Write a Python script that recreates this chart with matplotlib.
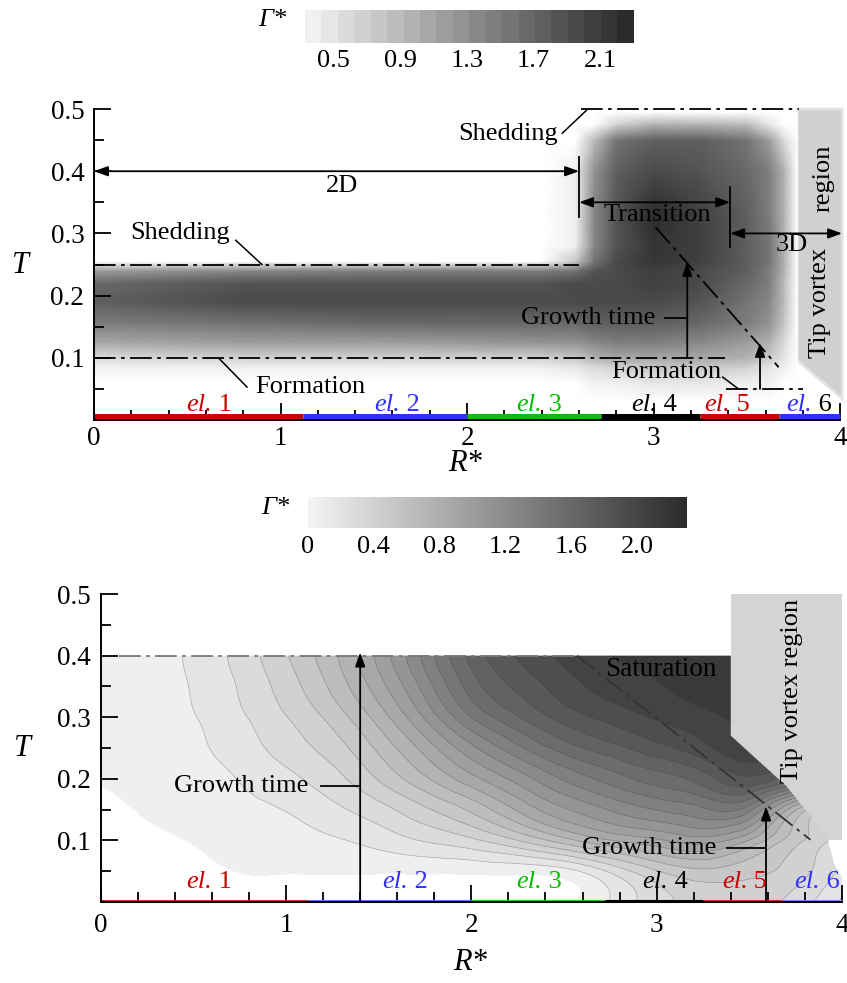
import numpy as np
import matplotlib.pyplot as plt
import matplotlib.tri as mtri
from matplotlib.colors import LinearSegmentedColormap, Normalize
from matplotlib.cm import ScalarMappable
from matplotlib.patches import Polygon
from matplotlib.ticker import MultipleLocator, FixedLocator

plt.rcParams['font.family'] = ['Liberation Serif', 'DejaVu Serif']
plt.rcParams['font.size'] = 19

# blade elements along R*
el_edges = [0.0, 1.12, 2.0, 2.72, 3.25, 3.67, 4.0]
el_nums = ['1', '2', '3', '4', '5', '6']
el_colors = ['#cc0000', '#3030ff', '#00c000', 'black', '#cc0000', '#3030ff']
el_num_colors_top = ['#cc0000', '#3030ff', '#00c000', 'black', '#cc0000', 'black']
el_bar_colors_bot = ['#cc3030', '#7070ff', '#30c030', 'black', '#cc3030', '#8080ff']
el_r_top = [0.60, 1.61, 2.37, 2.99, 3.38, 3.82]
el_r_bot = [0.57, 1.63, 2.35, 3.03, 3.46, 3.85]

# upper panel: circulation Gamma* on (R*, T) nodes
r_top = [0.0, 0.8, 1.6, 2.4, 2.58, 2.68, 2.8, 3.0, 3.25, 3.5, 3.62, 3.7, 3.77]
t_top = [0.03, 0.06, 0.085, 0.1, 0.125, 0.155, 0.19, 0.22, 0.24, 0.255,
         0.28, 0.33, 0.4, 0.45, 0.475, 0.495]
gamma_top = [
    [0, 0, 0, 0, 0, 0, 0, 0, 0, 0, 0, 0, 0],
    [0, 0, 0, 0, 0, 0.34, 0.4, 0.46, 0.5, 0.42, 0.36, 0, 0],
    [0.36, 0.36, 0.38, 0.4, 0.45, 0.6, 0.72, 0.8, 0.82, 0.68, 0.52, 0.36, 0],
    [0.62, 0.66, 0.7, 0.72, 0.8, 0.95, 1.05, 1.1, 1.1, 0.95, 0.75, 0.45, 0],
    [1.05, 1.15, 1.2, 1.25, 1.3, 1.38, 1.45, 1.45, 1.4, 1.2, 1.0, 0.6, 0],
    [1.45, 1.6, 1.65, 1.65, 1.7, 1.72, 1.75, 1.78, 1.68, 1.45, 1.25, 0.8, 0],
    [1.8, 1.95, 2.0, 1.95, 1.95, 1.95, 1.95, 1.95, 1.85, 1.6, 1.38, 0.9, 0],
    [1.68, 1.85, 1.9, 1.88, 1.92, 1.98, 2.0, 2.05, 1.95, 1.7, 1.45, 0.92, 0],
    [1.15, 1.35, 1.42, 1.42, 1.58, 1.85, 2.0, 2.1, 2.0, 1.75, 1.5, 0.95, 0],
    [0, 0, 0, 0.2, 0.75, 1.6, 1.95, 2.15, 2.02, 1.8, 1.55, 1.0, 0],
    [0, 0, 0, 0, 0.4, 1.4, 1.9, 2.2, 2.05, 1.8, 1.55, 1.0, 0],
    [0, 0, 0, 0, 0.34, 1.35, 1.88, 2.22, 2.05, 1.78, 1.5, 1.0, 0],
    [0, 0, 0, 0, 0.34, 1.3, 1.8, 2.0, 1.9, 1.7, 1.45, 0.95, 0],
    [0, 0, 0, 0, 0.1, 0.9, 1.6, 1.8, 1.75, 1.6, 1.2, 0.55, 0],
    [0, 0, 0, 0, 0, 0.2, 0.7, 1.0, 1.0, 0.85, 0.45, 0, 0],
    [0, 0, 0, 0, 0, 0, 0, 0, 0, 0, 0, 0, 0],
]
tip_top = [(3.77, 0.096), (4.01, 0.035), (4.01, 0.5), (3.77, 0.5)]

# lower panel: circulation Gamma* on (R*, T) nodes
r_bot = [0, 0.25, 0.5, 0.75, 1.0, 1.25, 1.5, 1.75, 2.0, 2.25, 2.5, 2.75,
         3.0, 3.25, 3.5, 3.75, 4.0]
t_bot = [0, 0.05, 0.1, 0.15, 0.2, 0.25, 0.3, 0.35, 0.4]
gamma_bot = [
    [-0.03, -0.03, -0.03, -0.03, -0.03, -0.03, -0.03, -0.03, -0.03, -0.03, -0.02, 0.12, 0.3, 0.38, 0.4, 0.3, 0.1],
    [-0.03, -0.03, -0.02, 0.002, 0.005, 0.008, 0.01, 0.015, 0.02, 0.03, 0.07, 0.25, 0.45, 0.55, 0.5, 0.4, 0.2],
    [-0.03, -0.012, 0.003, 0.03, 0.06, 0.1, 0.16, 0.24, 0.32, 0.46, 0.64, 0.8, 0.9, 0.98, 0.8, 0.5, 0.3],
    [-0.015, 0.006, 0.035, 0.075, 0.12, 0.2, 0.3, 0.44, 0.6, 0.82, 1.02, 1.16, 1.27, 1.36, 1.3, 0.7, 0.5],
    [0.003, 0.018, 0.065, 0.12, 0.2, 0.3, 0.47, 0.67, 0.88, 1.08, 1.28, 1.43, 1.55, 1.67, 1.82, 1.6, 1.3],
    [0.02, 0.03, 0.09, 0.17, 0.28, 0.4, 0.6, 0.85, 1.12, 1.35, 1.55, 1.68, 1.8, 1.92, 2.05, 1.95, 1.8],
    [0.025, 0.04, 0.108, 0.21, 0.34, 0.5, 0.74, 1.05, 1.38, 1.6, 1.77, 1.88, 1.97, 2.04, 2.1, 2.1, 2.0],
    [0.03, 0.045, 0.125, 0.24, 0.4, 0.6, 0.87, 1.2, 1.55, 1.75, 1.9, 2.0, 2.06, 2.11, 2.13, 2.1, 2.0],
    [0.03, 0.05, 0.14, 0.27, 0.45, 0.66, 0.95, 1.3, 1.65, 1.85, 1.98, 2.07, 2.12, 2.14, 2.14, 2.1, 2.0],
]
field_bot_outline = [(0, 0), (0, 0.4), (3.4, 0.4), (3.4, 0.27), (3.7, 0.188),
                     (3.92, 0.106), (3.96, 0.06), (4.0, 0.04), (4.0, 0)]
tip_bot = [(3.4, 0.1), (4.0, 0.1), (4.0, 0.5), (3.4, 0.5)]

DASHDOT = (0, (12, 3, 2, 3))
FS = 19

fig = plt.figure(figsize=(8.47, 9.83), dpi=100)

cmap_top = LinearSegmentedColormap.from_list('top', ['#f0f0f0', '#2b2b2b'], N=20)
cmap_top.set_under('white')
norm_top = Normalize(0.33, 2.30)
cmap_bot = LinearSegmentedColormap.from_list('bot', ['#f4f4f4', '#2b2b2b'], N=256)
norm_bot = Normalize(0.0, 2.3)


def setup_axes(ax, xpad):
    ax.set_xlim(0, 4)
    ax.set_ylim(0, 0.5)
    for s in ['top', 'right']:
        ax.spines[s].set_visible(False)
    for s in ['left', 'bottom']:
        ax.spines[s].set_linewidth(1.4)
        ax.spines[s].set_zorder(6)
    ax.xaxis.set_major_locator(FixedLocator([0, 1, 2, 3, 4]))
    ax.xaxis.set_minor_locator(MultipleLocator(0.2))
    ax.yaxis.set_major_locator(FixedLocator([0.1, 0.2, 0.3, 0.4, 0.5]))
    ax.yaxis.set_minor_locator(MultipleLocator(0.05))
    ax.set_yticklabels(['0.1', '0.2', '0.3', '0.4', '0.5'])
    ax.set_xticklabels(['0', '1', '2', '3', '4'])
    ax.tick_params(which='both', direction='in', width=1.3, labelsize=19.5,
                   top=False, right=False)
    ax.tick_params(which='major', length=12)
    ax.tick_params(which='minor', length=7.5)
    ax.tick_params(axis='x', pad=xpad)
    ax.tick_params(axis='y', pad=7)


def arrow(ax, x0, y0, x1, y1, style='-|>'):
    ax.annotate('', xy=(x1, y1), xytext=(x0, y0), annotation_clip=False,
                arrowprops=dict(arrowstyle=style + ',head_length=0.55,head_width=0.2',
                                color='black', lw=1.3, shrinkA=0, shrinkB=0,
                                mutation_scale=15), zorder=5)


def line(ax, xs, ys, **kw):
    kw.setdefault('color', 'black')
    kw.setdefault('lw', 1.3)
    ax.plot(xs, ys, clip_on=False, zorder=5, **kw)


def el_labels(ax, rs, t, num_colors, bar_colors, bar_t, bar_lw):
    for i in range(6):
        ax.plot([el_edges[i], el_edges[i + 1]], [bar_t, bar_t], color=bar_colors[i],
                lw=bar_lw, solid_capstyle='butt', clip_on=False, zorder=4)
        ax.text(rs[i] + 0.03, t, 'el.', color=el_colors[i], style='italic',
                ha='right', va='center', fontsize=FS, zorder=5)
        ax.text(rs[i] + 0.03, t, ' ' + el_nums[i], color=num_colors[i],
                ha='left', va='center', fontsize=FS, zorder=5)


# ---------------- upper panel ----------------
ax1 = fig.add_axes([0.111, 0.5727, 0.881, 0.3164])
setup_axes(ax1, 4)
ax1.pcolormesh(r_top, t_top, np.array(gamma_top), shading='gouraud',
               cmap=cmap_top, norm=norm_top, zorder=1)
ax1.add_patch(Polygon(tip_top, closed=True, facecolor='#d0d0d0',
                      edgecolor='#e2e2e2', lw=2, zorder=0.5, clip_on=False))

line(ax1, [0, 2.6], [0.25, 0.25], ls=DASHDOT)
line(ax1, [0, 3.38], [0.1, 0.1], ls=DASHDOT)
line(ax1, [2.61, 3.78], [0.5, 0.5], ls=DASHDOT)
line(ax1, [3.39, 3.80], [0.05, 0.05], ls=DASHDOT)
line(ax1, [3.01, 3.67], [0.31, 0.085], ls=DASHDOT)

arrow(ax1, 0.0, 0.4, 2.6, 0.4, '<|-|>')
arrow(ax1, 2.6, 0.35, 3.41, 0.35, '<|-|>')
arrow(ax1, 3.41, 0.30, 4.01, 0.30, '<|-|>')
line(ax1, [2.6, 2.6], [0.326, 0.423])
line(ax1, [3.41, 3.41], [0.278, 0.375])
arrow(ax1, 3.18, 0.1, 3.18, 0.254)
arrow(ax1, 3.57, 0.05, 3.57, 0.124)

line(ax1, [2.51, 2.64], [0.461, 0.498], lw=1.1)
line(ax1, [0.76, 0.90], [0.289, 0.25], lw=1.1)
line(ax1, [0.82, 0.67], [0.053, 0.099], lw=1.1)
line(ax1, [3.37, 3.45], [0.069, 0.051], lw=1.1)
line(ax1, [3.06, 3.18], [0.164, 0.164], lw=1.3)

ax1.text(1.33, 0.376, '2D', ha='center', va='center', fontsize=FS, zorder=5)
ax1.text(3.02, 0.33, 'Transition', ha='center', va='center', fontsize=FS, zorder=5)
ax1.text(3.74, 0.281, '3D', ha='center', va='center', fontsize=FS, zorder=5)
ax1.text(2.22, 0.46, 'Shedding', ha='center', va='center', fontsize=FS, zorder=5)
ax1.text(0.46, 0.30, 'Shedding', ha='center', va='center', fontsize=FS, zorder=5)
ax1.text(1.16, 0.053, 'Formation', ha='center', va='center', fontsize=FS, zorder=5)
ax1.text(3.07, 0.077, 'Formation', ha='center', va='center', fontsize=FS, zorder=5)
ax1.text(2.65, 0.164, 'Growth time', ha='center', va='center', fontsize=FS, zorder=5)
ax1.text(3.89, 0.188, 'Tip vortex', ha='center', va='center', rotation=90,
         fontsize=FS, zorder=5)
ax1.text(3.91, 0.389, 'region', ha='center', va='center', rotation=90,
         fontsize=FS, zorder=5)

el_labels(ax1, el_r_top, 0.024, el_num_colors_top, el_colors, 0.0065, 3.6)

ax1.text(-0.099, 0.498, 'T', transform=ax1.transAxes, style='italic',
         ha='center', va='center', fontsize=22)
ax1.text(0.497, -0.14, 'R*', transform=ax1.transAxes, style='italic',
         ha='center', va='center', fontsize=22)

cax1 = fig.add_axes([0.360, 0.956, 0.388, 0.0336])
cb1 = fig.colorbar(ScalarMappable(norm=norm_top, cmap=cmap_top), cax=cax1,
                   orientation='horizontal', ticks=[0.5, 0.9, 1.3, 1.7, 2.1])
cb1.outline.set_visible(False)
cb1.ax.tick_params(length=0, labelsize=19, pad=5)
fig.text(0.321, 0.980, 'Γ*', style='italic', ha='center', va='center', fontsize=19)

# ---------------- lower panel ----------------
ax2 = fig.add_axes([0.1189, 0.0824, 0.8752, 0.3133])
setup_axes(ax2, 8)
ax2.add_patch(Polygon(tip_bot, closed=True, facecolor='#d4d4d4',
                      edgecolor='none', zorder=0.5))

# smooth the node table with matplotlib's cubic refiner before contouring
rr, tt = np.meshgrid(r_bot, t_bot)
tri = mtri.Triangulation(rr.ravel(), tt.ravel())
refiner = mtri.UniformTriRefiner(tri)
tri_f, gamma_f = refiner.refine_field(np.array(gamma_bot).ravel(), subdiv=3)

levels = np.linspace(0, 2.3, 21)
cf = ax2.tricontourf(tri_f, gamma_f, levels=levels, cmap=cmap_bot,
                     norm=norm_bot, zorder=1)
cl = ax2.tricontour(tri_f, gamma_f, levels=levels[1:], colors='#444444',
                    linewidths=0.5, alpha=0.35, zorder=1.5)
clip = Polygon(field_bot_outline, closed=True, transform=ax2.transData)
cf.set_clip_path(clip)
cl.set_clip_path(clip)

line(ax2, [0.1, 2.57], [0.4, 0.4], ls=DASHDOT, color='#777777')
line(ax2, [2.57, 3.83], [0.4, 0.101], ls=DASHDOT, color='#333333')
arrow(ax2, 1.40, 0.0, 1.40, 0.405)
arrow(ax2, 3.59, 0.0, 3.59, 0.155)
line(ax2, [1.19, 1.40], [0.189, 0.189])
line(ax2, [3.38, 3.59], [0.088, 0.088])

ax2.text(3.02, 0.378, 'Saturation', ha='center', va='center', fontsize=19.5, zorder=5)
ax2.text(0.76, 0.189, 'Growth time', ha='center', va='center', fontsize=FS, zorder=5)
ax2.text(2.96, 0.088, 'Growth time', ha='center', va='center', fontsize=FS, zorder=5)
ax2.text(3.73, 0.342, 'Tip vortex region', ha='center', va='center', rotation=90,
         fontsize=FS, zorder=5)

el_labels(ax2, el_r_bot, 0.033, el_colors, el_bar_colors_bot, 0.002, 2.2)

ax2.text(-0.106, 0.5, 'T', transform=ax2.transAxes, style='italic',
         ha='center', va='center', fontsize=22)
ax2.text(0.498, -0.198, 'R*', transform=ax2.transAxes, style='italic',
         ha='center', va='center', fontsize=22)

cax2 = fig.add_axes([0.3636, 0.4629, 0.4475, 0.0315])
cb2 = fig.colorbar(ScalarMappable(norm=norm_bot, cmap=cmap_bot), cax=cax2,
                   orientation='horizontal', ticks=[0, 0.4, 0.8, 1.2, 1.6, 2.0])
cb2.set_ticklabels(['0', '0.4', '0.8', '1.2', '1.6', '2.0'])
cb2.outline.set_visible(False)
cb2.ax.tick_params(length=0, labelsize=19, pad=6)
fig.text(0.325, 0.483, 'Γ*', style='italic', ha='center', va='center', fontsize=19)

fig.savefig('out.png', dpi=100)
